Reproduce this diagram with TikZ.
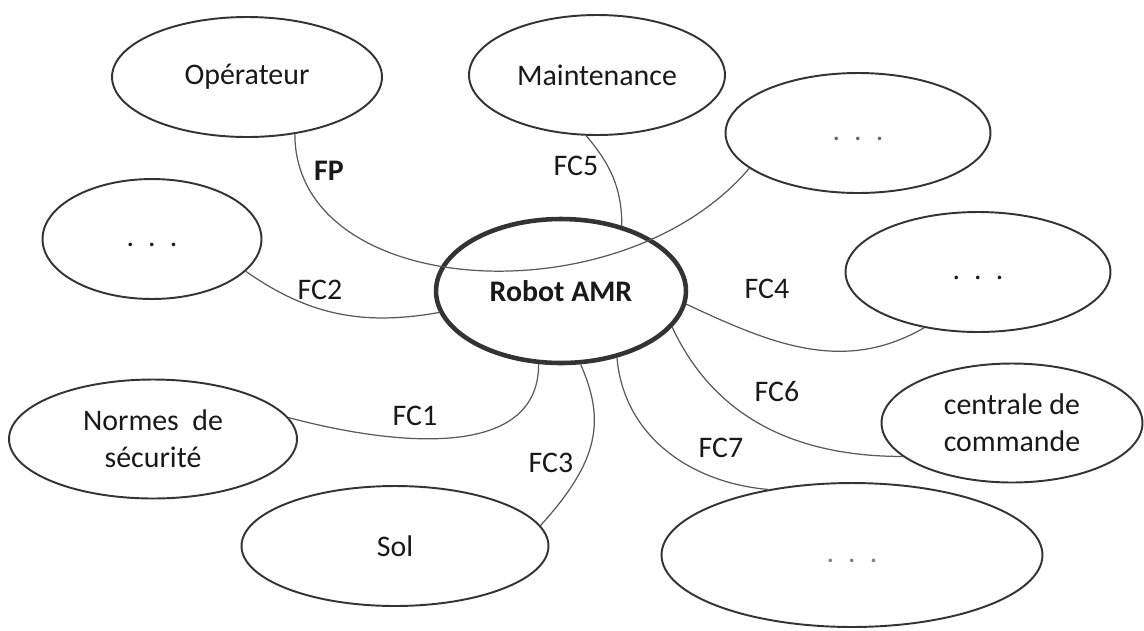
\documentclass[tikz,border=0pt]{standalone}
\usepackage{fontspec}
\setmainfont{Carlito}
\usetikzlibrary{shapes.geometric}
\newcommand\pts{\strut.\hspace{8pt}.\hspace{8pt}.}

\begin{document}
\begin{tikzpicture}[x=0.02cm,y=-0.02cm,
   every node/.style={font=\fontsize{17}{21}\selectfont,text=black!90},
   ext/.style={ellipse,draw=black!80,line width=1.1pt,inner sep=0pt,align=center},
   sys/.style={ellipse,draw=black!80,line width=2.6pt,inner sep=0pt,font=\fontsize{17}{21}\selectfont\bfseries},
   lien/.style={draw=black!65,line width=0.7pt},
   lbl/.style={inner sep=0pt}]
   \useasboundingbox (0,0) rectangle (1144,630);
   % the system and its surroundings
   \node[sys,minimum width=5.0cm,minimum height=2.88cm] (robot) at (561,291) {Robot AMR};
   \node[ext,minimum width=5.4cm,minimum height=2.4cm] (oper) at (247,77) {Opérateur};
   \node[ext,minimum width=5.12cm,minimum height=2.4cm] (mnt) at (597,75) {Maintenance};
   \node[ext,minimum width=5.3cm,minimum height=2.4cm] (tr) at (858,133) {\textcolor{black!60}{\pts}};
   \node[ext,minimum width=4.38cm,minimum height=2.4cm] (dl) at (152,239) {\pts};
   \node[ext,minimum width=5.3cm,minimum height=2.4cm] (rr) at (978,272) {\pts};
   \node[ext,minimum width=5.76cm,minimum height=2.38cm] (nrm) at (153,439) {Normes~ de\\sécurité};
   \node[ext,minimum width=5.22cm,minimum height=2.38cm] (ccm) at (1012,423) {centrale de\\commande};
   \node[ext,minimum width=6.14cm,minimum height=2.4cm] (sol) at (395,546) {Sol};
   \node[ext,minimum width=7.62cm,minimum height=2.88cm] (bot) at (852,555) {\textcolor{black!50}{\pts}};
   % functions
   \draw[lien] (oper.-50) .. controls (295,300) and (620,320) .. (tr.198);
   \draw[lien] (mnt.-100) to[out=-50,in=90] (robot.47);
   \draw[lien] (dl.-19) to[out=-35,in=190] (robot.190);
   \draw[lien] (robot.-6) to[out=-25,in=210] (rr.-134);
   \draw[lien] (nrm.9) to[out=-15,in=-90] (robot.-107);
   \draw[lien] (robot.-75) .. controls (605,420) and (600,460) .. (sol.8);
   \draw[lien] (robot.-50) to[out=-85,in=175] (bot.142);
   \draw[lien] (robot.-18) to[out=-65,in=180] (ccm.197);
   \node[lbl,font=\fontsize{17}{21}\selectfont\bfseries] (fp) at (329,171) {FP};
   \node[lbl] (fc5) at (576,166) {FC5};
   \node[lbl] (fc2) at (320,290) {FC2};
   \node[lbl] (fc4) at (767,289) {FC4};
   \node[lbl] (fc1) at (415,416) {FC1};
   \node[lbl] (fc6) at (777,392) {FC6};
   \node[lbl] (fc3) at (551,463) {FC3};
   \node[lbl] (fc7) at (721,448) {FC7};
\end{tikzpicture}
\end{document}
